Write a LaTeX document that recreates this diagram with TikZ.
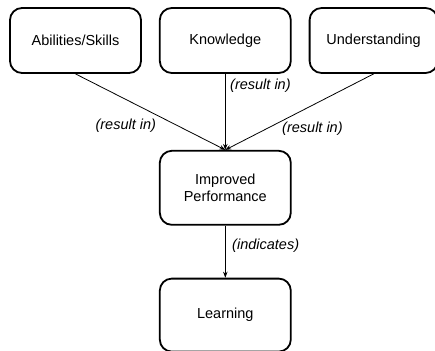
\documentclass[tikz,border=0pt]{standalone}
\usepackage{fontspec}
\setmainfont{Liberation Sans}
\usepackage{tikz}
\usetikzlibrary{arrows.meta,positioning}
\tikzset{
  ideabox/.style={draw=black,rounded corners=12pt,line width=1.8pt,align=center,minimum width=131pt,inner sep=3pt,font=\fontsize{14.5}{17}\selectfont,fill=white},
  leadarrow/.style={-{Stealth[length=6pt,width=4.5pt]},line width=0.8pt,draw=black},
  verblabel/.style={inner sep=0pt,font=\fontsize{14.5}{17}\selectfont\itshape}
}
\begin{document}
\begin{tikzpicture}[node distance=76pt and 17pt]
\useasboundingbox (0pt,0pt) rectangle (435pt,-350pt);
\node[ideabox,minimum height=65pt] (skills) at (75.5pt,-40.5pt) {Abilities/Skills};
\node[ideabox,minimum height=65pt,right=of skills] (know) {Knowledge};
\node[ideabox,minimum height=65pt,minimum width=128pt,right=of know] (under) {Understanding};
\node[ideabox,minimum height=74pt,below=of know] (perf) {Improved\\Performance};
\node[ideabox,minimum height=73pt,below=52pt of perf] (learn) {Learning};
\draw[leadarrow] (skills.south) -- node[verblabel,pos=0.68,left=21pt] {(result in)} (perf.north);
\draw[leadarrow] (know.south) -- node[verblabel,pos=0.15,right=4.5pt] {(result in)} (perf.north);
\draw[leadarrow] (under.south) -- node[verblabel,pos=0.72,right=15pt] {(result in)} (perf.north);
\draw[leadarrow] (perf.south) -- node[verblabel,pos=0.38,right=6.5pt] {(indicates)} (learn.north);
\end{tikzpicture}
\end{document}
